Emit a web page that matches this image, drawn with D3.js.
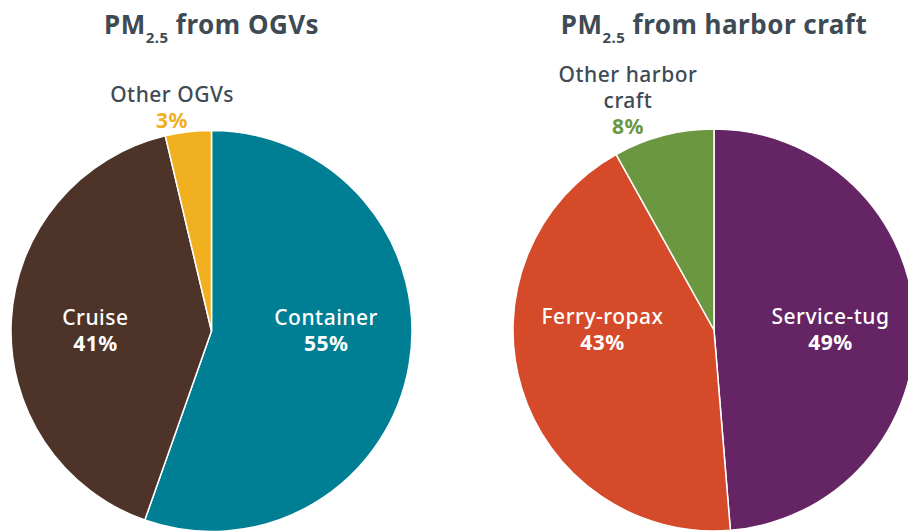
<!DOCTYPE html>
<html>
<head>
<meta charset="utf-8">
<script src="https://cdn.jsdelivr.net/npm/d3@7"></script>
<style>
  html, body { margin: 0; padding: 0; background: #fff; }
  svg { display: block; font-family: "Noto Sans", sans-serif; }
</style>
</head>
<body>
<svg id="chart"></svg>
<script>
// data (slice sizes, labels as printed)
const ogvCategories = ['Container', 'Cruise', 'Other OGVs'];
const ogvValues = [55.4, 40.9, 3.7];
const ogvLabels = ['55%', '41%', '3%'];
const ogvColors = ['#007f94', '#4e3329', '#f0b020'];

const harborCategories = ['Service-tug', 'Ferry-ropax', 'Other harbor craft'];
const harborValues = [48.7, 43.2, 8.1];
const harborLabels = ['49%', '43%', '8%'];
const harborColors = ['#652463', '#d54a28', '#6b9740'];

const width = 908;
const height = 531;
const textColor = '#3e4a54';
const lineGap = 26;

const svg = d3.select('#chart')
    .attr('width', width)
    .attr('height', height);

const charts = [
    { title: ' from OGVs', cats: ogvCategories, vals: ogvValues, labels: ogvLabels, colors: ogvColors,
      cx: 211.5, cy: 331, r: 200.5, outside: { x: 172, y: 102, lines: ['Other OGVs'] } },
    { title: ' from harbor craft', cats: harborCategories, vals: harborValues, labels: harborLabels, colors: harborColors,
      cx: 714, cy: 330, r: 201, outside: { x: 628, y: 82, lines: ['Other harbor', 'craft'] } }
];

charts.forEach(c => {
    const pie = d3.pie().sort(null).value(d => d);
    const arcs = pie(c.vals);
    const arc = d3.arc().innerRadius(0).outerRadius(c.r);
    const labelArc = d3.arc().innerRadius(c.r * 0.58).outerRadius(c.r * 0.58);

    const g = svg.append('g').attr('transform', `translate(${c.cx},${c.cy})`);

    g.selectAll('path')
        .data(arcs)
        .enter()
        .append('path')
        .attr('d', arc)
        .attr('fill', (d, i) => c.colors[i])
        .attr('stroke', '#fff')
        .attr('stroke-width', 1.5)
        .attr('stroke-linejoin', 'round');

    // big slices: labels inside
    arcs.slice(0, 2).forEach((d, i) => {
        const x = labelArc.centroid(d)[0];
        g.append('text')
            .attr('x', x).attr('y', -6)
            .attr('text-anchor', 'middle')
            .attr('fill', '#fff')
            .style('font-size', '21px')
            .style('font-weight', 500)
            .style('letter-spacing', '0.5px')
            .text(c.cats[i]);
        g.append('text')
            .attr('x', x).attr('y', -6 + lineGap)
            .attr('text-anchor', 'middle')
            .attr('fill', '#fff')
            .style('font-size', '21px')
            .style('font-weight', 700)
            .style('letter-spacing', '0.5px')
            .text(c.labels[i]);
    });

    // small slice: label above the pie
    const o = c.outside;
    o.lines.forEach((line, k) => {
        svg.append('text')
            .attr('x', o.x).attr('y', o.y + k * lineGap)
            .attr('text-anchor', 'middle')
            .attr('fill', textColor)
            .style('font-size', '21px')
            .style('font-weight', 500)
            .style('letter-spacing', '0.5px')
            .text(line);
    });
    svg.append('text')
        .attr('x', o.x).attr('y', o.y + o.lines.length * lineGap)
        .attr('text-anchor', 'middle')
        .attr('fill', c.colors[2])
        .style('font-size', '21px')
        .style('font-weight', 700)
        .style('letter-spacing', '0.5px')
        .text(c.labels[2]);

    // title
    const t = svg.append('text')
        .attr('x', c.cx).attr('y', 34)
        .attr('text-anchor', 'middle')
        .attr('fill', textColor)
        .style('font-size', '26px')
        .style('font-weight', 700)
        .style('letter-spacing', '0.5px');
    t.append('tspan').text('PM');
    t.append('tspan').attr('dy', 9).style('font-size', '15px').text('2.5');
    t.append('tspan').attr('dy', -9).text(c.title);
});
</script>
</body>
</html>
